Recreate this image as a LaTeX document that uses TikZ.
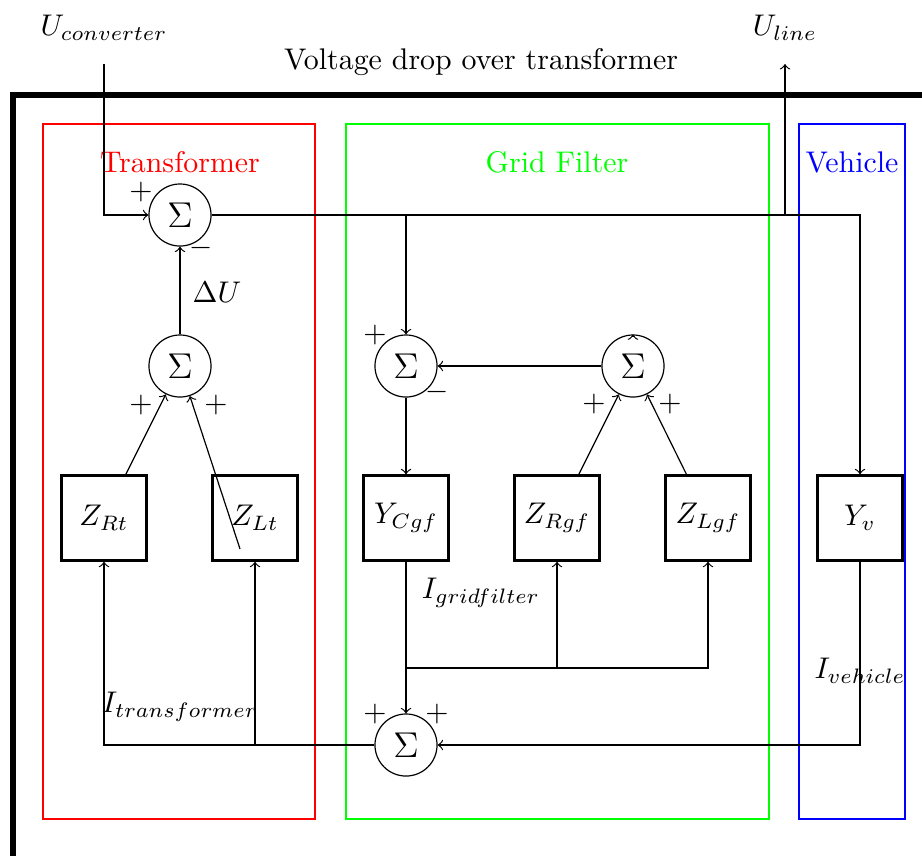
\documentclass[tikz,border=0pt]{standalone}
\usetikzlibrary{arrows}

\tikzset{
  block/.style={draw, thick, minimum size=1cm, inner sep=0pt},
  sumnode/.style={draw, circle, minimum size=0.73cm, inner sep=0pt, font=\large},
}

\begin{document}
\begin{tikzpicture}[x=0.01176cm, y=-0.01176cm, >=to]
  \useasboundingbox (0,0) rectangle (922,855);

  % Outer frame, cut by the page
  \draw[line width=1.8pt] (13,95) rectangle (1000,950);
  \node (title) at (481,62) {Voltage drop over transformer};

  % Subsystems
  \draw[red] (43,124) rectangle (315,819);
  \draw[green] (346,124) rectangle (769,819);
  \draw[blue] (799,124) rectangle (905,819);
  \node[red] (trafo) at (180,162) {Transformer};
  \node[green] (filter) at (557,162) {Grid Filter};
  \node[blue] (vehicle) at (852,162) {Vehicle};

  % Summation points
  \node[sumnode] (s1) at (180,215) {$\Sigma$};
  \node[sumnode] (s2) at (180,366) {$\Sigma$};
  \node[sumnode] (s3) at (406,366) {$\Sigma$};
  \node[sumnode] (s4) at (633,366) {$\Sigma$};
  \node[sumnode] (s5) at (406,745) {$\Sigma$};

  % Impedance / admittance blocks
  \node[block] (zrt) at (104,518) {$Z_{Rt}$};
  \node[block] (zlt) at (255,518) {$Z_{Lt}$};
  \node[block] (ycgf) at (406,518) {$Y_{Cgf}$};
  \node[block] (zrgf) at (557,518) {$Z_{Rgf}$};
  \node[block] (zlgf) at (708,518) {$Z_{Lgf}$};
  \node[block] (yv) at (860,518) {$Y_v$};

  % Signs
  \node (s1a) at (141,192) {$+$};
  \node (s1b) at (201,248) {$-$};
  \node (s2a) at (141,405) {$+$};
  \node (s2b) at (216,405) {$+$};
  \node (s3a) at (375,335) {$+$};
  \node (s3b) at (437,392) {$-$};
  \node (s4a) at (594,404) {$+$};
  \node (s4b) at (670,404) {$+$};
  \node (s5a) at (375,714) {$+$};
  \node (s5b) at (437,714) {$+$};

  % Voltages
  \node (uconvlabel) at (104,28) {$U_{converter}$};
  \node (ulinelabel) at (785,28) {$U_{line}$};
  \coordinate (uconv) at (104,64);
  \coordinate (uline) at (785,64);
  \coordinate (j1) at (406,215);
  \coordinate (j2) at (785,215);
  \draw[->] (uconv) |- (s1);
  \draw[->] (s1) -| (yv);
  \draw[->] (j1) -- (s3);
  \draw[->] (j2) -- (uline);
  \draw[->] (s2) -- (s1);
  \node (du) at (217,292) {$\Delta U$};

  \coordinate (zltfoot) at ([xshift=-0.176cm, yshift=-0.365cm]zlt.center);
  \draw[->] (zrt) -- (s2);
  \draw[->] (zltfoot) -- (s2);
  \draw[->] (s4) -- (s3);
  \draw[->] ([yshift=-0.5pt]s4.north) -- (s4.north);
  \draw[->] (zrgf) -- (s4);
  \draw[->] (zlgf) -- (s4);
  \draw[->] (s3) -- (ycgf);

  % Currents
  \coordinate (j3) at (406,668);
  \coordinate (j4) at (255,745);
  \draw[->] (ycgf) -- (s5);
  \draw[->] (j3) -| (zrgf);
  \draw[->] (j3) -| (zlgf);
  \draw[->] (yv) |- (s5);
  \draw[->] (s5) -| (zrt);
  \draw[->] (j4) -- (zlt);
  \node (igf) at (481,593) {$I_{gridfilter}$};
  \node (iv) at (860,671) {$I_{vehicle}$};
  \node (it) at (180,707) {$I_{transformer}$};
\end{tikzpicture}
\end{document}
